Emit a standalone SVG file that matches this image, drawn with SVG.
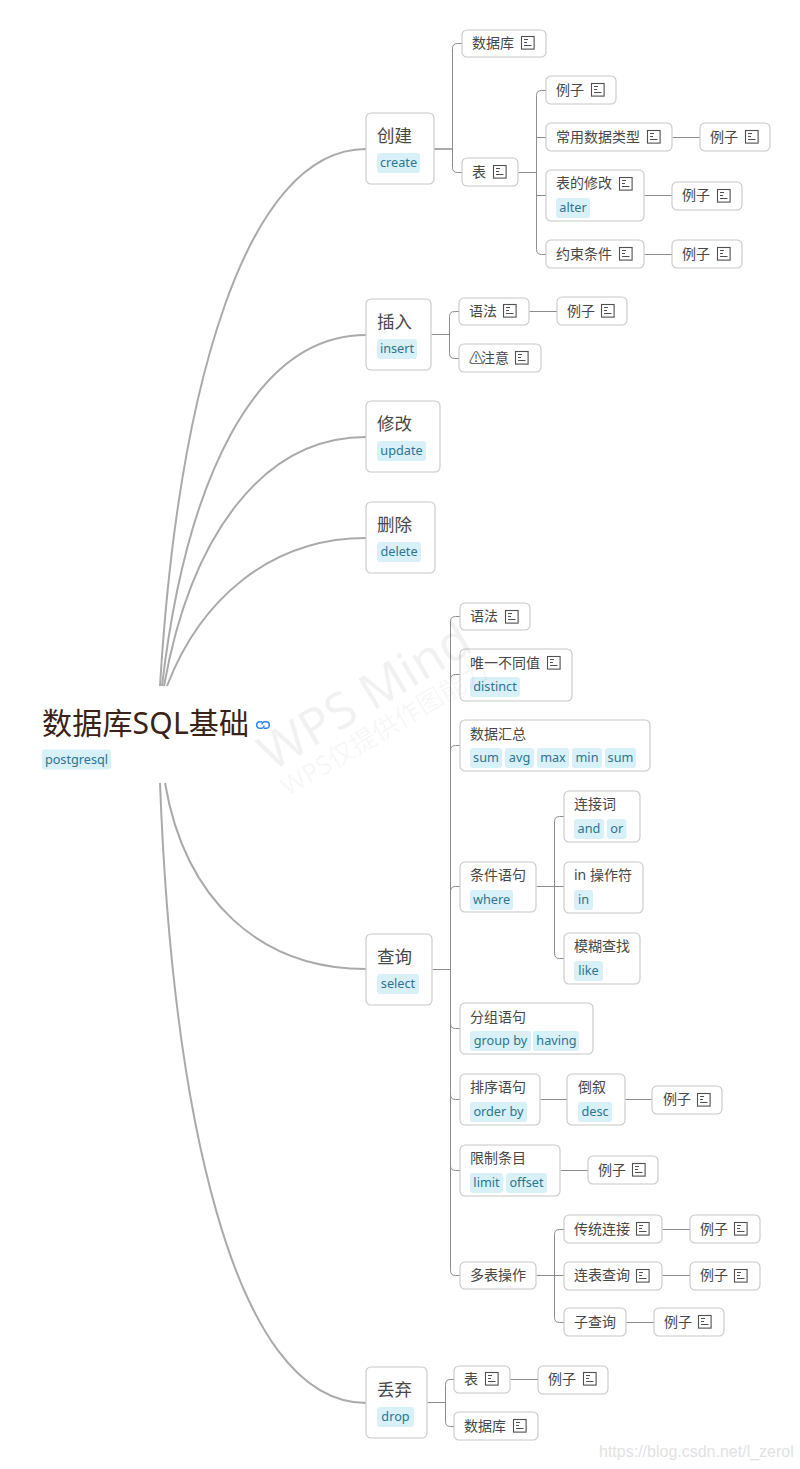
<svg xmlns="http://www.w3.org/2000/svg" xmlns:xlink="http://www.w3.org/1999/xlink" width="800" height="1469" viewBox="0 0 800 1469">
<style>
text{font-family:"Noto Sans","Noto Sans CJK SC",sans-serif}
.n{fill:#fff;stroke:#c8c8c8;stroke-width:1.1}
.t{font-size:14px;fill:#484848}
.m{font-size:17.5px;fill:#484848}
.g{fill:#d8f0f7}
.l{font-size:12.7px;fill:#2e7490;text-anchor:middle}
.c1{fill:none;stroke:#aaa;stroke-width:2}
.c2{fill:none;stroke:#8c8c8c;stroke-width:1}
.i{fill:none;stroke:#505050;stroke-width:1.1}
.wm{fill:#000;fill-opacity:.055}
</style>
<defs>
<g id="note"><rect class="i" x="0.5" y="0.5" width="12.6" height="12.6"/><path class="i" d="M3 3.5H7M3 6.5H6M3 9.5H10.5"/></g>
</defs>
<rect width="800" height="1469" fill="#fff"/>
<g id="connectors">
<path class="c1" d="M160,686C178,390 245,149 366,149"/>
<path class="c1" d="M162,686C186,480 255,335 366,335"/>
<path class="c1" d="M164,686C190,540 260,437 366,437"/>
<path class="c1" d="M167,686C200,600 270,538 366,538"/>
<path class="c1" d="M165,783C185,900 260,969 366,969"/>
<path class="c1" d="M160,783C172,1100 230,1403 366,1403"/>
<path class="c1" d="M434,149H452"/>
<g transform="translate(.5,.5)">
<path class="c2" d="M462,43H457Q452,43 452,48V167Q452,172 457,172H462"/>
<path class="c2" d="M518,172H536M546,90H541Q536,90 536,95V249Q536,254 541,254H546M536,137H546M536,195H546"/>
<path class="c2" d="M672,137H700M644,195H672M644,254H672"/>
<path class="c2" d="M431,334H449M459,311H454Q449,311 449,316V353Q449,358 454,358H459"/>
<path class="c2" d="M529,311H557"/>
<path class="c2" d="M432,969H450M460,616H455Q450,616 450,621V1270Q450,1275 455,1275H460M460,674H455Q450,674 450,679M460,745H455Q450,745 450,750M460,886H455Q450,886 450,891M460,1028H455Q450,1028 450,1023M460,1099H455Q450,1099 450,1094M460,1170H455Q450,1170 450,1165"/>
<path class="c2" d="M536,886H564M564,816H559Q554,816 554,821V953Q554,958 559,958H564"/>
<path class="c2" d="M540,1099H567M625,1099H652M560,1170H588"/>
<path class="c2" d="M536,1275H564M564,1229H559Q554,1229 554,1234V1317Q554,1322 559,1322H564"/>
<path class="c2" d="M662,1229H690M662,1275H690M626,1322H654"/>
<path class="c2" d="M427,1402H445M454,1379H450Q445,1379 445,1384V1421Q445,1426 450,1426H454"/>
<path class="c2" d="M510,1379H538"/>
</g>
</g>
<g id="root">
<text x="42" y="734" font-size="30" fill="#3a2216" textLength="207" lengthAdjust="spacing">数据库SQL基础</text>
<g fill="none" stroke="#2f86f0" stroke-width="1.5"><path d="M262,721.7H260A3.3,3.3 0 0 0 260,728.3H261.5A2.6,2.6 0 0 0 264,725.5"/><path d="M264,728.3H266A3.3,3.3 0 0 0 266,721.7H264.5A2.6,2.6 0 0 0 262,724.5"/></g>
<rect class="g" x="42" y="749.5" width="69" height="20" rx="3"/><text class="l" x="76.5" y="763.5">postgresql</text>
</g>
<g id="create"><rect class="n" x="366" y="113" width="68" height="71" rx="5"/><text class="m" x="377" y="142">创建</text><rect class="g" x="377" y="153" width="43" height="20" rx="3"/><text class="l" x="398.5" y="167">create</text></g>
<g id="insert"><rect class="n" x="366" y="299" width="65" height="71" rx="5"/><text class="m" x="377" y="328">插入</text><rect class="g" x="377" y="339" width="40" height="20" rx="3"/><text class="l" x="397" y="353">insert</text></g>
<g id="update"><rect class="n" x="366" y="401" width="74" height="71" rx="5"/><text class="m" x="377" y="430">修改</text><rect class="g" x="377" y="441" width="49" height="20" rx="3"/><text class="l" x="401.5" y="455">update</text></g>
<g id="delete"><rect class="n" x="366" y="502" width="69" height="71" rx="5"/><text class="m" x="377" y="531">删除</text><rect class="g" x="377" y="542" width="44" height="20" rx="3"/><text class="l" x="399" y="556">delete</text></g>
<g id="select"><rect class="n" x="366" y="934" width="66" height="71" rx="5"/><text class="m" x="377" y="963">查询</text><rect class="g" x="377" y="974" width="42" height="20" rx="3"/><text class="l" x="398" y="988">select</text></g>
<g id="drop"><rect class="n" x="366" y="1367" width="61" height="71" rx="5"/><text class="m" x="377" y="1396">丢弃</text><rect class="g" x="377" y="1407" width="37" height="20" rx="3"/><text class="l" x="395.5" y="1421">drop</text></g>

<g id="n1"><rect class="n" x="462" y="30" width="84" height="27" rx="5"/><text class="t" x="472" y="48">数据库</text><use xlink:href="#note" x="521" y="36"/></g>
<g id="n2"><rect class="n" x="462" y="158" width="56" height="28" rx="5"/><text class="t" x="472" y="177">表</text><use xlink:href="#note" x="493" y="165"/></g>
<g id="n3"><rect class="n" x="546" y="76" width="70" height="28" rx="5"/><text class="t" x="556" y="95">例子</text><use xlink:href="#note" x="591" y="83"/></g>
<g id="n4"><rect class="n" x="546" y="123" width="126" height="28" rx="5"/><text class="t" x="556" y="142">常用数据类型</text><use xlink:href="#note" x="647" y="130"/></g>
<g id="n5"><rect class="n" x="700" y="123" width="70" height="28" rx="5"/><text class="t" x="710" y="142">例子</text><use xlink:href="#note" x="745" y="130"/></g>
<g id="n6"><rect class="n" x="546" y="170" width="98" height="51" rx="5"/><text class="t" x="556" y="188">表的修改</text><use xlink:href="#note" x="619" y="177"/><rect class="g" x="556" y="198" width="34" height="20" rx="3"/><text class="l" x="573" y="212">alter</text></g>
<g id="n7"><rect class="n" x="672" y="182" width="70" height="28" rx="5"/><text class="t" x="682" y="200">例子</text><use xlink:href="#note" x="717" y="189"/></g>
<g id="n8"><rect class="n" x="546" y="240" width="98" height="28" rx="5"/><text class="t" x="556" y="259">约束条件</text><use xlink:href="#note" x="619" y="247"/></g>
<g id="n9"><rect class="n" x="672" y="240" width="70" height="28" rx="5"/><text class="t" x="682" y="259">例子</text><use xlink:href="#note" x="717" y="247"/></g>

<g id="n10"><rect class="n" x="459" y="298" width="70" height="27" rx="5"/><text class="t" x="469" y="316">语法</text><use xlink:href="#note" x="503" y="304"/></g>
<g id="n11"><rect class="n" x="557" y="297" width="70" height="28" rx="5"/><text class="t" x="567" y="316">例子</text><use xlink:href="#note" x="601" y="304"/></g>
<g id="n12"><rect class="n" x="459" y="344" width="82" height="28" rx="5"/><text class="t" x="469 481 495" y="363">⚠注意</text><use xlink:href="#note" x="515" y="351"/></g>

<g id="n13"><rect class="n" x="460" y="603" width="70" height="27" rx="5"/><text class="t" x="470" y="621">语法</text><use xlink:href="#note" x="505" y="610"/></g>
<g id="n14"><rect class="n" x="460" y="649" width="112" height="52" rx="5"/><text class="t" x="470" y="668">唯一不同值</text><use xlink:href="#note" x="547" y="656"/><rect class="g" x="470" y="677" width="50" height="20" rx="3"/><text class="l" x="495" y="691">distinct</text></g>
<g id="n15"><rect class="n" x="460" y="720" width="190" height="51" rx="5"/><text class="t" x="470" y="739">数据汇总</text>
<rect class="g" x="470" y="748" width="32" height="20" rx="3"/><text class="l" x="486" y="762">sum</text>
<rect class="g" x="505" y="748" width="29" height="20" rx="3"/><text class="l" x="519.5" y="762">avg</text>
<rect class="g" x="537" y="748" width="32" height="20" rx="3"/><text class="l" x="553" y="762">max</text>
<rect class="g" x="572" y="748" width="30" height="20" rx="3"/><text class="l" x="587" y="762">min</text>
<rect class="g" x="605" y="748" width="31" height="20" rx="3"/><text class="l" x="620.5" y="762">sum</text></g>
<g id="n16"><rect class="n" x="460" y="862" width="76" height="50" rx="5"/><text class="t" x="470" y="880">条件语句</text><rect class="g" x="470" y="890" width="43" height="20" rx="3"/><text class="l" x="491.5" y="904">where</text></g>
<g id="n17"><rect class="n" x="564" y="791" width="76" height="51" rx="5"/><text class="t" x="574" y="809">连接词</text><rect class="g" x="574" y="819" width="30" height="20" rx="3"/><text class="l" x="589" y="833">and</text><rect class="g" x="607" y="819" width="19.5" height="20" rx="3"/><text class="l" x="616.7" y="833">or</text></g>
<g id="n18"><rect class="n" x="564" y="862" width="79" height="51" rx="5"/><text class="t" x="574" y="880">in 操作符</text><rect class="g" x="574" y="890" width="19" height="20" rx="3"/><text class="l" x="583.5" y="904">in</text></g>
<g id="n19"><rect class="n" x="564" y="933" width="76" height="51" rx="5"/><text class="t" x="574" y="951">模糊查找</text><rect class="g" x="574" y="961" width="29" height="20" rx="3"/><text class="l" x="588.5" y="975">like</text></g>
<g id="n20"><rect class="n" x="460" y="1003" width="133" height="51" rx="5"/><text class="t" x="470" y="1022">分组语句</text><rect class="g" x="470" y="1031" width="61" height="20" rx="3"/><text class="l" x="500.5" y="1045">group by</text><rect class="g" x="533" y="1031" width="46" height="20" rx="3"/><text class="l" x="556.5" y="1045">having</text></g>
<g id="n21"><rect class="n" x="460" y="1074" width="80" height="51" rx="5"/><text class="t" x="470" y="1092">排序语句</text><rect class="g" x="470" y="1102" width="57" height="20" rx="3"/><text class="l" x="498.5" y="1116">order by</text></g>
<g id="n22"><rect class="n" x="567" y="1074" width="58" height="51" rx="5"/><text class="t" x="578" y="1092">倒叙</text><rect class="g" x="578" y="1102" width="34" height="20" rx="3"/><text class="l" x="595" y="1116">desc</text></g>
<g id="n23"><rect class="n" x="652" y="1086" width="70" height="28" rx="5"/><text class="t" x="663" y="1104">例子</text><use xlink:href="#note" x="697" y="1093"/></g>
<g id="n24"><rect class="n" x="460" y="1145" width="100" height="51" rx="5"/><text class="t" x="470" y="1163">限制条目</text><rect class="g" x="470" y="1173" width="33" height="20" rx="3"/><text class="l" x="486.5" y="1187">limit</text><rect class="g" x="506" y="1173" width="41" height="20" rx="3"/><text class="l" x="526.5" y="1187">offset</text></g>
<g id="n25"><rect class="n" x="588" y="1156" width="70" height="28" rx="5"/><text class="t" x="598" y="1175">例子</text><use xlink:href="#note" x="632" y="1163"/></g>
<g id="n26"><rect class="n" x="460" y="1262" width="76" height="27" rx="5"/><text class="t" x="470" y="1280">多表操作</text></g>
<g id="n27"><rect class="n" x="564" y="1215" width="98" height="28" rx="5"/><text class="t" x="574" y="1234">传统连接</text><use xlink:href="#note" x="636" y="1222"/></g>
<g id="n28"><rect class="n" x="690" y="1215" width="70" height="28" rx="5"/><text class="t" x="700" y="1234">例子</text><use xlink:href="#note" x="734" y="1222"/></g>
<g id="n29"><rect class="n" x="564" y="1262" width="98" height="28" rx="5"/><text class="t" x="574" y="1280">连表查询</text><use xlink:href="#note" x="636" y="1269"/></g>
<g id="n30"><rect class="n" x="690" y="1262" width="70" height="28" rx="5"/><text class="t" x="700" y="1280">例子</text><use xlink:href="#note" x="734" y="1269"/></g>
<g id="n31"><rect class="n" x="564" y="1308" width="62" height="28" rx="5"/><text class="t" x="574" y="1327">子查询</text></g>
<g id="n32"><rect class="n" x="654" y="1308" width="70" height="28" rx="5"/><text class="t" x="664" y="1327">例子</text><use xlink:href="#note" x="698" y="1315"/></g>
<g id="n33"><rect class="n" x="454" y="1366" width="56" height="27" rx="5"/><text class="t" x="464" y="1384">表</text><use xlink:href="#note" x="485" y="1372"/></g>
<g id="n34"><rect class="n" x="538" y="1366" width="70" height="28" rx="5"/><text class="t" x="548" y="1384">例子</text><use xlink:href="#note" x="583" y="1372"/></g>
<g id="n35"><rect class="n" x="454" y="1412" width="84" height="28" rx="5"/><text class="t" x="464" y="1431">数据库</text><use xlink:href="#note" x="513" y="1419"/></g>
<g id="watermark">
<text class="wm" transform="translate(272,772) rotate(-31)" font-size="50">WPS Mind</text>
<text class="wm" transform="translate(288,797) rotate(-31)" font-size="26">WPS仅提供作图能力</text>
</g>
<text x="599" y="1457" font-size="16" style="font-family:'Liberation Sans',sans-serif" fill="#e2e2e2">https://blog.csdn.net/l_zerol</text>
</svg>
